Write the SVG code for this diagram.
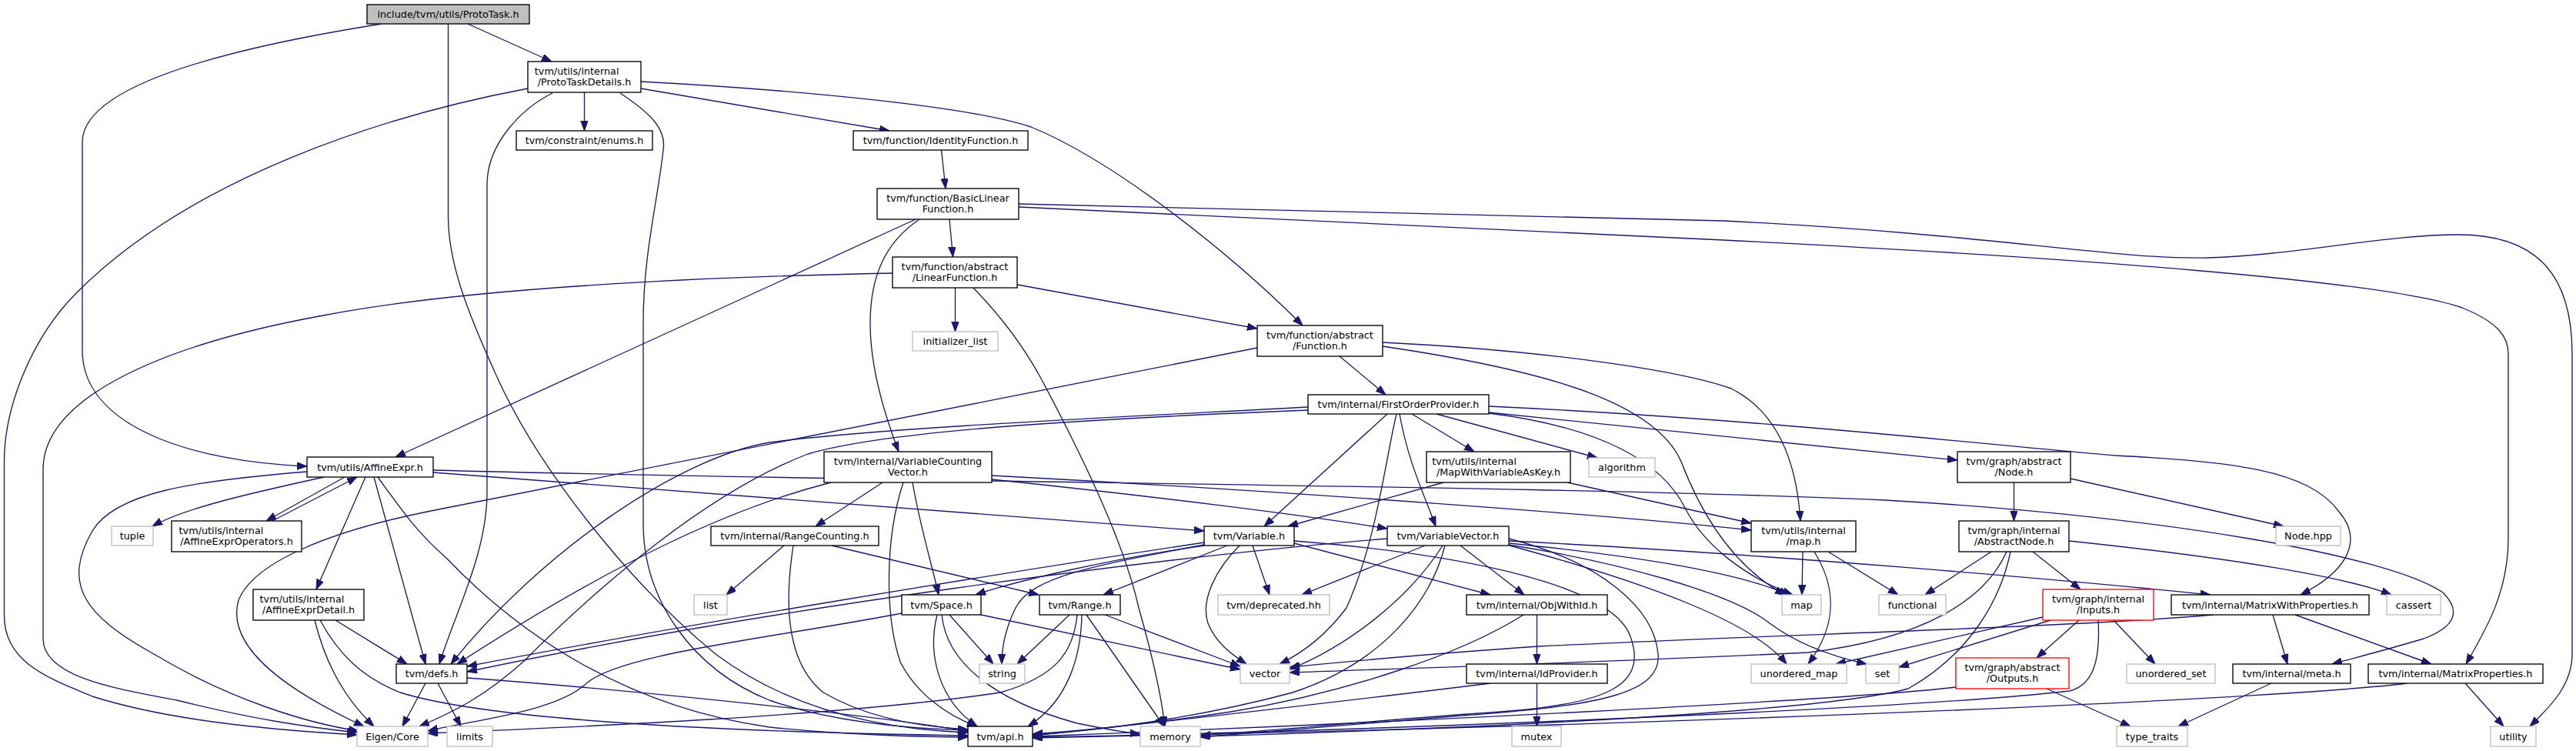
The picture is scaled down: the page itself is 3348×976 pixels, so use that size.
<svg xmlns="http://www.w3.org/2000/svg" width="3348" height="976" viewBox="0 0 3348 976">
<defs>
<marker id="ah" markerUnits="userSpaceOnUse" markerWidth="13" markerHeight="10" refX="13" refY="4.7" orient="auto">
<path d="M0,0 L13,4.7 L0,9.4 z" fill="#191970" stroke="#191970" stroke-width="1"/>
</marker>
<style>
.e{fill:none;stroke:#191970;stroke-width:1.33;marker-end:url(#ah)}
rect{fill:#fff;stroke:#000;stroke-width:1.33}
rect.g{stroke:#bfbfbf}
rect.r{stroke:#ff0000}
rect.m{fill:#bfbfbf}
text{font-family:"DejaVu Sans","Liberation Sans",sans-serif;font-size:12.8px;fill:#000;text-anchor:middle}
text.s{text-anchor:start}
</style>
</defs>
<rect x="0" y="0" width="3348" height="976" style="fill:#fff;stroke:none"/>
<g id="edges">
<path class="e" d="M608,31 L717,80"/>
<path class="e" d="M496,31 C250,70 107,120 107,185 L107,455 C107,555 250,600 399,606"/>
<path class="e" d="M582.5,31 L582.5,280 C582.5,340 605,400 646,490 C700,610 820,760 930,850 C1030,925 1150,948 1258,952"/>
<path class="e" d="M759.5,120 L759.5,170"/>
<path class="e" d="M833,115 L1156,170"/>
<path class="e" d="M833,106 C1000,115 1250,135 1340,165 C1450,210 1600,330 1693,423"/>
<path class="e" d="M718,121 C680,140 633,185 633,240 L633,640 C633,720 590,800 571,863"/>
<path class="e" d="M806,121 C850,150 866,170 862,195 C855,260 836,330 836,420 L836,680 C836,780 900,870 1000,910 C1080,938 1180,947 1258,949"/>
<path class="e" d="M686,115 C500,150 250,230 100,380 C40,440 5.5,530 5.5,600 L5.5,800 C5.5,860 60,880 120,905 C230,940 380,950 464,955"/>
<path class="e" d="M1223.5,195 L1229,245"/>
<path class="e" d="M1234,285 L1238.5,334"/>
<path class="e" d="M1190,285 L514,594"/>
<path class="e" d="M1195,285 C1150,315 1131,360 1131,420 C1131,480 1150,540 1168,587"/>
<path class="e" d="M1324,269 L2240,312 C2700,335 3100,365 3200,400 C3250,420 3260,440 3260,460 L3260,700 C3260,770 3230,820 3205,863"/>
<path class="e" d="M1324,265 L2240,287 C2600,305 2750,338 2870,335 C2980,332 3100,305 3195,305 C3300,305 3343,360 3343,460 L3343,850 C3343,890 3315,918 3288,944"/>
<path class="e" d="M1241.5,374 L1241.5,431"/>
<path class="e" d="M1322.5,370 L1634,427"/>
<path class="e" d="M1160,355 C900,360 600,375 420,410 C200,450 56,520 56,610 L56,830 C56,880 150,895 230,910 C330,935 400,945 464,952"/>
<path class="e" d="M1265,374 C1300,410 1330,450 1352,490 C1400,580 1460,700 1480,790 C1500,860 1510,910 1514,944"/>
<path class="e" d="M1741,463 L1801,513"/>
<path class="e" d="M1634,452 L560,664 C430,690 330,730 310,780 C290,850 400,910 473,944"/>
<path class="e" d="M1797,445 C2000,455 2180,480 2250,505 C2310,535 2335,600 2340,677"/>
<path class="e" d="M1797,450 C2000,480 2150,520 2185,600 C2210,665 2250,735 2320,773"/>
<path class="e" d="M1700,529 C1500,540 1150,555 1000,575 C880,595 700,720 586,863"/>
<path class="e" d="M1700,533 C1400,545 1150,560 1050,590 C920,640 780,760 680,860 C630,905 590,925 545,944"/>
<path class="e" d="M1803,538 L1643,684"/>
<path class="e" d="M1815,538 C1800,600 1790,700 1750,790 C1720,830 1690,850 1663,863"/>
<path class="e" d="M1819,538 C1830,600 1850,640 1866,684"/>
<path class="e" d="M1835,538 L1916,587"/>
<path class="e" d="M1867,538 L2076,595"/>
<path class="e" d="M1935,536 L2544,598"/>
<path class="e" d="M1935,528 C2300,545 2600,580 2750,592 C2900,600 3000,610 3040,665 C3070,700 3055,740 2990,773"/>
<path class="e" d="M1935,537 C2080,555 2160,600 2190,660 C2215,710 2270,750 2330,773"/>
<path class="e" d="M399,613 C250,625 150,640 120,690 C80,760 110,800 200,850 C300,910 400,940 466,950"/>
<path class="e" d="M421,620 C330,640 240,660 198,684"/>
<path class="e" d="M448,620 L346,677"/>
<path class="e" d="M354,677 L464,620"/>
<path class="e" d="M475,620 L411,766"/>
<path class="e" d="M486,620 L553,863"/>
<path class="e" d="M491,620 C520,660 540,690 580,725 C680,830 820,920 1000,945 C1100,955 1200,958 1258,958"/>
<path class="e" d="M563,614 L1565,690"/>
<path class="e" d="M563,611 C1200,628 2000,630 2450,650 C2800,670 3100,720 3175,770 C3200,795 3190,815 3150,830 C3100,845 3060,855 3031,863"/>
<path class="e" d="M436,806 L529,863"/>
<path class="e" d="M409,806 C420,850 440,900 486,944"/>
<path class="e" d="M416,806 C440,850 470,880 520,900 C650,940 1000,952 1258,956"/>
<path class="e" d="M553,888 L523,944"/>
<path class="e" d="M569,888 L599,944"/>
<path class="e" d="M607,881 C800,895 1100,925 1258,950"/>
<path class="e" d="M1080,627 C950,660 800,730 594,863"/>
<path class="e" d="M1147,627 L1060,684"/>
<path class="e" d="M1186,627 C1195,680 1210,730 1220,773"/>
<path class="e" d="M1174,627 C1150,700 1150,800 1170,860 C1190,900 1230,930 1270,944"/>
<path class="e" d="M1289,623 C1500,645 1700,670 1803,687"/>
<path class="e" d="M1289,618 C1700,640 2100,670 2276,689"/>
<path class="e" d="M1019,709 L944,773"/>
<path class="e" d="M1031,709 C1020,780 1020,860 1070,900 C1130,935 1200,945 1258,948"/>
<path class="e" d="M1081,709 L1350,773"/>
<path class="e" d="M1876,627 L1674,684"/>
<path class="e" d="M2037,627 L2276,680"/>
<path class="e" d="M1565,705 C1300,745 900,810 607,866"/>
<path class="e" d="M1565,708 C1420,735 1340,750 1320,790 C1305,820 1302,845 1302,863"/>
<path class="e" d="M1565,709 C1450,725 1320,755 1268,773"/>
<path class="e" d="M1595,709 L1434,773"/>
<path class="e" d="M1611,709 C1580,740 1560,780 1570,810 C1580,835 1600,850 1620,863"/>
<path class="e" d="M1628,709 L1650,773"/>
<path class="e" d="M1682,706 L1937,773"/>
<path class="e" d="M1682,703 C1900,720 2100,760 2120,830 C2140,890 2090,915 1950,925 C1800,935 1650,950 1560,956"/>
<path class="e" d="M1803,700 C1500,725 1000,790 607,873"/>
<path class="e" d="M1852,709 L1692,773"/>
<path class="e" d="M1898,709 L1981,773"/>
<path class="e" d="M1875,709 C1830,780 1750,840 1676,870"/>
<path class="e" d="M1878,709 C1860,780 1800,860 1680,900 C1550,935 1420,950 1342,955"/>
<path class="e" d="M1961,700 C2080,730 2150,790 2155,850 C2160,900 2080,918 1900,930 C1750,942 1620,952 1560,958"/>
<path class="e" d="M1961,703 C2300,720 2700,755 2873,773"/>
<path class="e" d="M1961,708 C2100,730 2250,770 2300,810 C2340,840 2390,855 2426,863"/>
<path class="e" d="M1962,709 C2150,760 2280,810 2322,863"/>
<path class="e" d="M1962,706 C2100,720 2250,740 2325,773"/>
<path class="e" d="M2343,717 L2342,773"/>
<path class="e" d="M2376,717 L2467,773"/>
<path class="e" d="M2358,717 C2385,760 2390,810 2350,863"/>
<path class="e" d="M2617.5,627 L2617.5,677"/>
<path class="e" d="M2691,622 L2968,684"/>
<path class="e" d="M2588,717 L2502,773"/>
<path class="e" d="M2642,717 L2704,766"/>
<path class="e" d="M2689,703 C2900,725 3050,750 3108,773"/>
<path class="e" d="M2613,717 C2600,780 2560,850 2480,895 C2350,930 1800,950 1560,957"/>
<path class="e" d="M2608,717 C2580,780 2500,830 2350,848 C2100,860 1850,868 1676,874"/>
<path class="e" d="M2702,806 L2647,855"/>
<path class="e" d="M2747,806 L2801,863"/>
<path class="e" d="M2655,802 L2386,863"/>
<path class="e" d="M2665,806 L2468,867"/>
<path class="e" d="M2727,806 C2730,860 2720,890 2690,898 C2500,920 1800,950 1342,958"/>
<path class="e" d="M2660,895 L2769,944"/>
<path class="e" d="M2542,893 C2400,910 1800,940 1342,957"/>
<path class="e" d="M2954,799 L2973,863"/>
<path class="e" d="M2983,799 L3160,863"/>
<path class="e" d="M2877,799 C2700,815 2300,825 2000,840 C1850,850 1750,860 1676,867"/>
<path class="e" d="M2952,888 L2831,944"/>
<path class="e" d="M3204,888 L3254,944"/>
<path class="e" d="M3128,888 C3000,905 2300,940 1342,959"/>
<path class="e" d="M1997.5,799 L1997.5,863"/>
<path class="e" d="M1980,799 C1900,850 1750,900 1600,925 C1500,940 1400,950 1342,954"/>
<path class="e" d="M1997.5,888 L1997.5,944"/>
<path class="e" d="M1937,888 C1800,905 1500,940 1342,956"/>
<path class="e" d="M1234,799 L1291,863"/>
<path class="e" d="M1275,799 L1612,870"/>
<path class="e" d="M1218,799 C1205,850 1220,910 1270,944"/>
<path class="e" d="M1224,799 C1230,860 1290,910 1400,940 C1440,948 1460,952 1482,954"/>
<path class="e" d="M1172,797 C1000,830 800,850 760,890 C720,925 620,935 556,950"/>
<path class="e" d="M1390,799 L1322,863"/>
<path class="e" d="M1406,799 C1405,850 1390,910 1336,944"/>
<path class="e" d="M1412,799 L1513,944"/>
<path class="e" d="M1436,799 L1612,866"/>
<path class="e" d="M1400,799 C1395,850 1370,880 1300,900 C1100,930 750,945 556,953"/>
</g>
<g id="n0"><rect class="m" x="477" y="6" width="211" height="25"/><text x="582.5" y="23">include/tvm/utils/ProtoTask.h</text></g>
<g id="n1"><rect x="686" y="80" width="147" height="40"/><text class="s" x="694.8" y="96.5">tvm/utils/internal</text><text x="759.5" y="111">/ProtoTaskDetails.h</text></g>
<g id="n2"><rect x="671" y="170" width="177" height="25"/><text x="759.5" y="187">tvm/constraint/enums.h</text></g>
<g id="n3"><rect x="1109" y="170" width="227" height="25"/><text x="1222.5" y="187">tvm/function/IdentityFunction.h</text></g>
<g id="n4"><rect x="1140" y="245" width="184" height="40"/><text x="1232" y="261.5">tvm/function/BasicLinear</text><text x="1232" y="276">Function.h</text></g>
<g id="n5"><rect x="1160" y="334" width="162" height="40"/><text x="1241" y="350.5">tvm/function/abstract</text><text x="1241" y="365">/LinearFunction.h</text></g>
<g id="n6"><rect class="g" x="1186" y="431" width="111" height="25"/><text x="1241.5" y="448">initializer_list</text></g>
<g id="n7"><rect x="1634" y="423" width="163" height="40"/><text x="1715.5" y="439.5">tvm/function/abstract</text><text x="1715.5" y="454">/Function.h</text></g>
<g id="n8"><rect x="1700" y="513" width="235" height="25"/><text x="1817.5" y="530">tvm/internal/FirstOrderProvider.h</text></g>
<g id="n9"><rect x="399" y="594" width="164" height="26"/><text x="481" y="611.5">tvm/utils/AffineExpr.h</text></g>
<g id="n10"><rect class="g" x="145" y="684" width="54" height="25"/><text x="172" y="701">tuple</text></g>
<g id="n11"><rect x="223" y="677" width="169" height="40"/><text class="s" x="232.6" y="693.5">tvm/utils/internal</text><text x="307.5" y="708">/AffineExprOperators.h</text></g>
<g id="n12"><rect x="1071" y="587" width="218" height="40"/><text x="1180" y="603.5">tvm/internal/VariableCounting</text><text x="1180" y="618">Vector.h</text></g>
<g id="n13"><rect x="1854" y="587" width="187" height="40"/><text class="s" x="1861.3" y="603.5">tvm/utils/internal</text><text x="1947.5" y="618">/MapWithVariableAsKey.h</text></g>
<g id="n14"><rect class="g" x="2065" y="595" width="86" height="25"/><text x="2108" y="612">algorithm</text></g>
<g id="n15"><rect x="2544" y="587" width="147" height="40"/><text x="2617.5" y="603.5">tvm/graph/abstract</text><text x="2617.5" y="618">/Node.h</text></g>
<g id="n16"><rect class="g" x="2958" y="684" width="84" height="25"/><text x="3000" y="701">Node.hpp</text></g>
<g id="n17"><rect x="924" y="684" width="218" height="25"/><text x="1033" y="701">tvm/internal/RangeCounting.h</text></g>
<g id="n18"><rect x="1565" y="684" width="117" height="25"/><text x="1623.5" y="701">tvm/Variable.h</text></g>
<g id="n19"><rect x="1803" y="684" width="158" height="25"/><text x="1882" y="701">tvm/VariableVector.h</text></g>
<g id="n20"><rect x="2276" y="677" width="136" height="40"/><text x="2344" y="693.5">tvm/utils/internal</text><text x="2344" y="708">/map.h</text></g>
<g id="n21"><rect x="2546" y="677" width="143" height="40"/><text x="2617.5" y="693.5">tvm/graph/internal</text><text x="2617.5" y="708">/AbstractNode.h</text></g>
<g id="n22"><rect class="g" x="902" y="773" width="43" height="26"/><text x="923.5" y="790.5">list</text></g>
<g id="n23"><rect x="1172" y="773" width="103" height="26"/><text x="1223.5" y="790.5">tvm/Space.h</text></g>
<g id="n24"><rect x="1351" y="773" width="105" height="26"/><text x="1403.5" y="790.5">tvm/Range.h</text></g>
<g id="n25"><rect class="g" x="1583" y="773" width="145" height="26"/><text x="1655.5" y="790.5">tvm/deprecated.hh</text></g>
<g id="n26"><rect x="1906" y="773" width="183" height="26"/><text x="1997.5" y="790.5">tvm/internal/ObjWithId.h</text></g>
<g id="n27"><rect class="g" x="2316" y="773" width="51" height="26"/><text x="2341.5" y="790.5">map</text></g>
<g id="n28"><rect class="g" x="2442" y="773" width="87" height="26"/><text x="2485.5" y="790.5">functional</text></g>
<g id="n29"><rect class="r" x="2655" y="766" width="144" height="40"/><text x="2727" y="782.5">tvm/graph/internal</text><text x="2727" y="797">/Inputs.h</text></g>
<g id="n30"><rect x="2822" y="773" width="257" height="26"/><text x="2950.5" y="790.5">tvm/internal/MatrixWithProperties.h</text></g>
<g id="n31"><rect class="g" x="3102" y="773" width="70" height="26"/><text x="3137" y="790.5">cassert</text></g>
<g id="n32"><rect x="329" y="766" width="144" height="40"/><text class="s" x="337.6" y="782.5">tvm/utils/internal</text><text x="401" y="797">/AffineExprDetail.h</text></g>
<g id="n33"><rect x="515" y="863" width="92" height="25"/><text x="561" y="880">tvm/defs.h</text></g>
<g id="n34"><rect class="g" x="1273" y="863" width="59" height="25"/><text x="1302.5" y="880">string</text></g>
<g id="n35"><rect class="g" x="1612" y="863" width="64" height="25"/><text x="1644" y="880">vector</text></g>
<g id="n36"><rect x="1906" y="863" width="183" height="25"/><text x="1997.5" y="880">tvm/internal/IdProvider.h</text></g>
<g id="n37"><rect class="g" x="2276" y="863" width="124" height="25"/><text x="2338" y="880">unordered_map</text></g>
<g id="n38"><rect class="g" x="2425" y="863" width="43" height="25"/><text x="2446.5" y="880">set</text></g>
<g id="n39"><rect class="r" x="2542" y="855" width="147" height="40"/><text x="2615.5" y="871.5">tvm/graph/abstract</text><text x="2615.5" y="886">/Outputs.h</text></g>
<g id="n40"><rect class="g" x="2764" y="863" width="115" height="25"/><text x="2821.5" y="880">unordered_set</text></g>
<g id="n41"><rect x="2902" y="863" width="153" height="25"/><text x="2978.5" y="880">tvm/internal/meta.h</text></g>
<g id="n42"><rect x="3078" y="863" width="227" height="25"/><text x="3191.5" y="880">tvm/internal/MatrixProperties.h</text></g>
<g id="n43"><rect class="g" x="464" y="944" width="92" height="26"/><text x="510" y="961.5">Eigen/Core</text></g>
<g id="n44"><rect class="g" x="581" y="944" width="59" height="26"/><text x="610.5" y="961.5">limits</text></g>
<g id="n45"><rect x="1258" y="944" width="84" height="26"/><text x="1300" y="961.5">tvm/api.h</text></g>
<g id="n46"><rect class="g" x="1482" y="944" width="78" height="26"/><text x="1521" y="961.5">memory</text></g>
<g id="n47"><rect class="g" x="1965" y="944" width="64" height="26"/><text x="1997" y="961.5">mutex</text></g>
<g id="n48"><rect class="g" x="2751" y="944" width="92" height="26"/><text x="2797" y="961.5">type_traits</text></g>
<g id="n49"><rect class="g" x="3237" y="944" width="59" height="26"/><text x="3266.5" y="961.5">utility</text></g>
</svg>
